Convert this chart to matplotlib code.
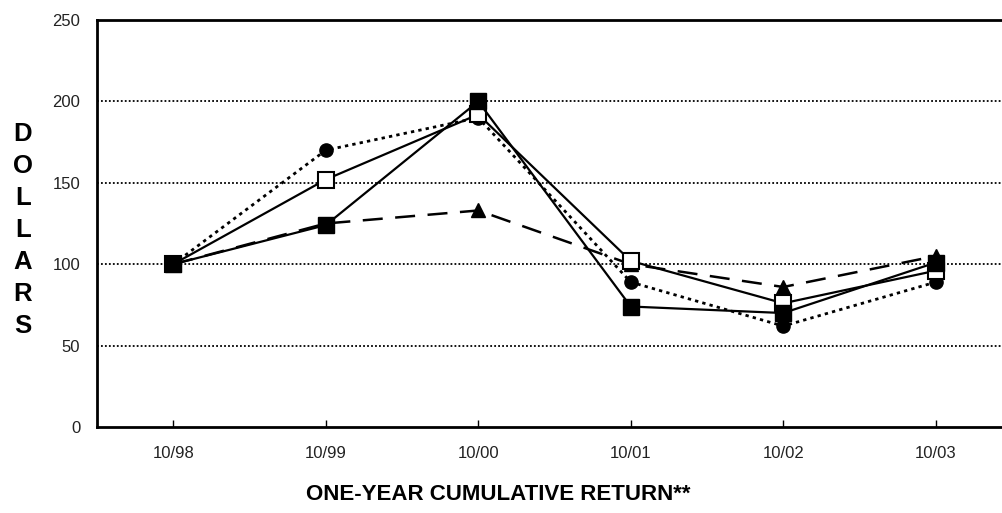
import matplotlib
matplotlib.use("Agg")
import matplotlib.pyplot as plt

# ---------- data ----------
periods = ["10/98", "10/99", "10/00", "10/01", "10/02", "10/03"]
circle_dotted = [100, 170, 190, 89, 62, 89]
triangle_dashed = [100, 125, 133, 100, 86, 105]
open_square = [100, 152, 192, 102, 76, 96]
filled_square = [100, 124, 200, 74, 70, 101]
y_ticks = [0, 50, 100, 150, 200, 250]

plt.rcParams["font.family"] = ["Liberation Sans", "DejaVu Sans"]

fig = plt.figure(figsize=(10.03, 5.13), dpi=100)
ax = fig.add_axes([97 / 1003, 86 / 513, 915 / 1003, 407 / 513])

x = list(range(len(periods)))
ax.plot(x, circle_dotted, color="black", lw=2, ls=(0, (1.2, 1.5)),
        marker="o", ms=9.5, mfc="black", mec="black", zorder=3)
ax.plot(x, triangle_dashed, color="black", lw=1.8, ls=(0, (8, 5)),
        marker="^", ms=9.5, mfc="black", mec="black", zorder=4)
ax.plot(x, open_square, color="black", lw=1.6, ls="-",
        marker="s", ms=11, mfc="white", mec="black", mew=1.5, zorder=5)
ax.plot(x, filled_square, color="black", lw=1.6, ls="-",
        marker="s", ms=11, mfc="black", mec="black", zorder=6)

ax.set_xlim(-0.5, len(periods) - 0.5)
ax.set_ylim(0, 250)
ax.set_xticks(x)
ax.set_xticklabels(periods)
ax.set_yticks(y_ticks)
ax.tick_params(axis="x", direction="in", length=5, width=1, pad=14, labelsize=12)
ax.tick_params(axis="y", length=0, pad=12, labelsize=12)
for lab in ax.get_xticklabels() + ax.get_yticklabels():
    lab.set_color("#222222")

for v in y_ticks[1:-1]:
    ax.axhline(v, color="black", lw=1.3, ls=(0, (1, 1.2)), zorder=1)

for sp in ax.spines.values():
    sp.set_linewidth(2)

fig.text(23 / 1003, 1 - 230 / 513, "\n".join("DOLLARS"), ha="center", va="center",
         fontsize=18.5, fontweight="bold", linespacing=1.42)
fig.text(498 / 1003, 1 - 495 / 513, "ONE-YEAR CUMULATIVE RETURN**",
         ha="center", va="center", fontsize=16, fontweight="bold")

fig.savefig("out.png", dpi=100)
